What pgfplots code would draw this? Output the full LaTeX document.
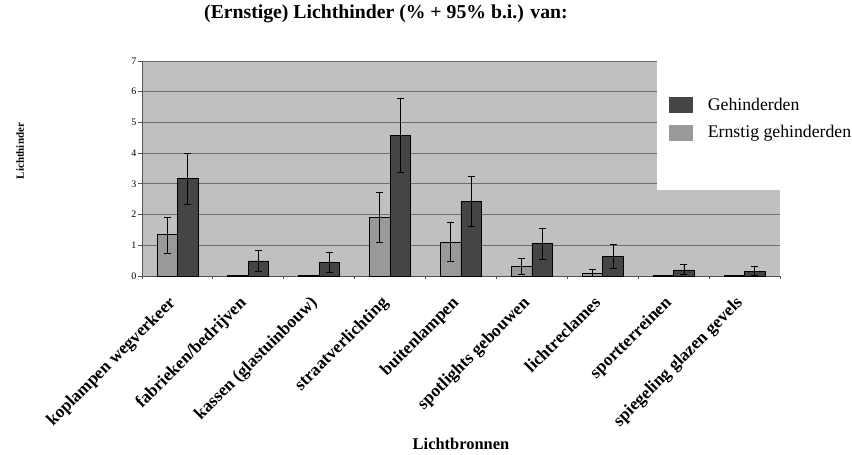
\documentclass[border=0pt]{standalone}
\usepackage{fontspec}
\setmainfont{Liberation Serif}
\usepackage{pgfplots}
\pgfplotsset{compat=1.18}
\usepackage{pgfplotstable}
\definecolor{plotbg}{HTML}{C0C0C0}
\definecolor{gridc}{HTML}{6E6E6E}
\definecolor{lightbar}{HTML}{999999}
\definecolor{darkbar}{HTML}{454545}
\definecolor{axisc}{HTML}{555555}
\pgfplotstableread{
x  g     gp    gm    d     dp    dm
0  1.35  0.57  0.60  3.18  0.81  0.84
1  0.02  0.00  0.00  0.49  0.34  0.34
2  0.03  0.00  0.00  0.45  0.32  0.33
3  1.90  0.81  0.79  4.59  1.20  1.21
4  1.11  0.63  0.64  2.44  0.80  0.81
5  0.31  0.27  0.27  1.06  0.49  0.53
6  0.09  0.13  0.09  0.65  0.39  0.40
7  0.01  0.00  0.00  0.20  0.18  0.16
8  0.01  0.00  0.00  0.16  0.15  0.13
}\datatable
\begin{document}
\begin{tikzpicture}
\useasboundingbox (0,0) rectangle (852bp,455bp);
\begin{axis}[
  at={(142bp,179bp)}, anchor=south west,
  scale only axis, width=638bp, height=215bp,
  clip=false,
  ybar=0pt, bar width=20.5bp,
  xmin=-0.5, xmax=8.5, ymin=0, ymax=7,
  axis x line*=bottom, axis y line*=left,
  axis line style={draw=axisc, line width=1bp, -},
  axis background/.style={fill=plotbg},
  ymajorgrids, grid style={draw=gridc, line width=1bp},
  ytick={0,...,7},
  yticklabel style={font=\fontsize{10}{10}\selectfont, inner sep=2bp},
  /pgf/number format/assume math mode=true,
  tick align=outside, major tick length=3.5bp,
  tick style={draw=axisc, line width=0.8bp},
  xtick={-0.5,0.5,...,8.5}, xticklabels={},
  extra x ticks={0,...,8},
  extra x tick labels={koplampen wegverkeer, fabrieken/bedrijven, kassen (glastuinbouw), straatverlichting, buitenlampen, spotlights gebouwen, lichtreclames, sportterreinen, spiegeling glazen gevels},
  extra x tick style={tick style={draw=none},
    xticklabel style={xshift=-10bp, yshift=-14bp, rotate=45, anchor=north east, inner sep=1bp,
      font=\bfseries\fontsize{17.5}{17.5}\selectfont}},
  title={(Ernstige) Lichthinder (\% + 95\% b.i.) van:},
  title style={at={(axis description cs:0.3824,1.172)}, anchor=base,
    font=\bfseries\fontsize{19.8}{19.8}\selectfont, inner sep=0pt},
  xlabel={Lichtbronnen},
  xlabel style={at={(axis description cs:0.5,-0.809)}, anchor=base,
    font=\bfseries\fontsize{16.5}{16.5}\selectfont, inner sep=0pt},
  ylabel={Lichthinder},
  ylabel style={at={(axis description cs:-0.191,0.581)}, anchor=center,
    font=\bfseries\fontsize{11}{11}\selectfont, inner sep=0pt},
  reverse legend,
  legend style={at={(rel axis cs:0.826,0.834)}, anchor=north west,
    draw=none, fill=none, inner sep=0pt, row sep=12bp,
    font=\fontsize{17.8}{17.8}\selectfont,
    nodes={inner sep=0pt}},
  legend cell align=left,
]
\fill[white] (rel axis cs:0.807,1.004) rectangle (rel axis cs:1.1129,0.4);
\addplot[fill=lightbar, draw=black, line width=0.7bp,
  legend image code/.code={\fill[lightbar] (0bp,-7.5bp) rectangle (23bp,7.5bp); \path (38bp,0bp);},
  error bars/.cd, y dir=both, y explicit,
  error bar style={black, line width=0.8bp},
  error mark options={black, rotate=90, mark size=3.5bp, line width=0.8bp}]
  table[x=x, y=g, y error plus=gp, y error minus=gm] {\datatable};
\addlegendentry{Ernstig gehinderden}
\addplot[fill=darkbar, draw=black, line width=0.7bp,
  legend image code/.code={\fill[darkbar] (0bp,-7.5bp) rectangle (23bp,7.5bp); \path (38bp,0bp);},
  error bars/.cd, y dir=both, y explicit,
  error bar style={black, line width=0.8bp},
  error mark options={black, rotate=90, mark size=3.5bp, line width=0.8bp}]
  table[x=x, y=d, y error plus=dp, y error minus=dm] {\datatable};
\addlegendentry{Gehinderden}
\end{axis}
\end{tikzpicture}
\end{document}
